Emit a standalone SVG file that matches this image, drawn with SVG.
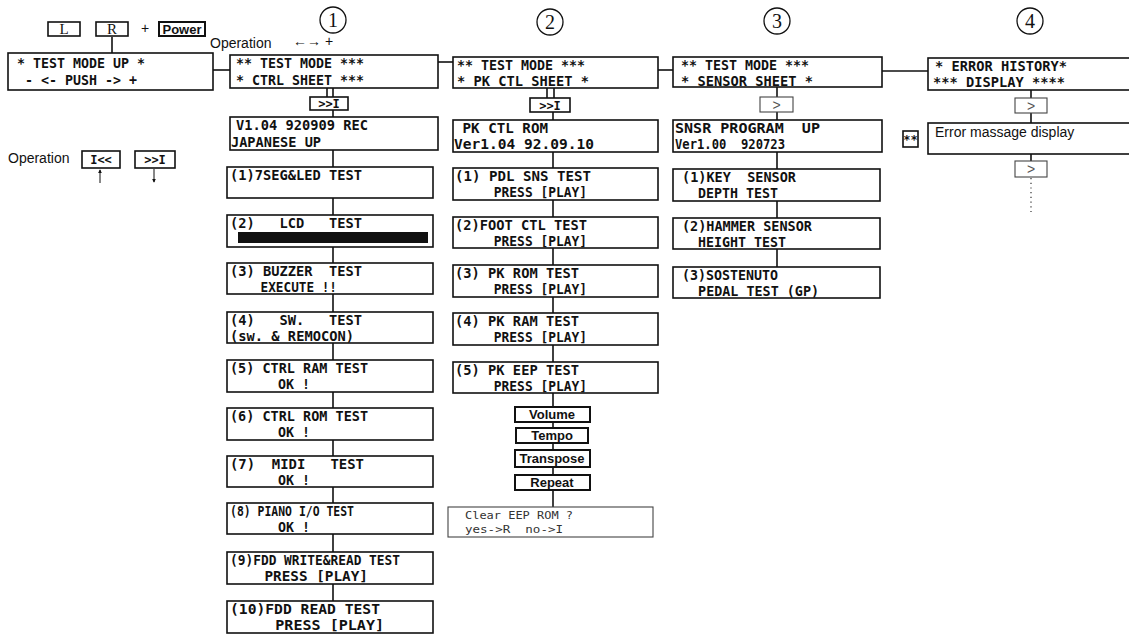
<svg xmlns="http://www.w3.org/2000/svg" width="1129" height="635" viewBox="0 0 1129 635" xml:space="preserve">
<style>
.box{fill:#fff;stroke:#111;stroke-width:1.6}
.lbox{fill:#fff;stroke:#444;stroke-width:1.1}
.kbox{fill:#fff;stroke:#111;stroke-width:2}
.ln{stroke:#111;stroke-width:1.6;fill:none}
.lcd{font-family:"DejaVu Sans Mono","Liberation Mono",monospace;font-size:13.5px;font-weight:bold;fill:#111;white-space:pre}
.lcdl{font-family:"DejaVu Sans Mono","Liberation Mono",monospace;font-size:11px;fill:#333;white-space:pre}
.btn{font-family:"DejaVu Sans Mono","Liberation Mono",monospace;font-size:12px;font-weight:bold;fill:#111;text-anchor:middle;white-space:pre}
.key{font-family:"Liberation Sans",Arial,sans-serif;font-size:13px;font-weight:bold;fill:#111;text-anchor:middle}
.lab{font-family:"Liberation Sans",Arial,sans-serif;font-size:14px;fill:#111}
.ser{font-family:"Liberation Serif","Times New Roman",serif;fill:#111;text-anchor:middle}
.gt{font-family:"Liberation Sans",Arial,sans-serif;font-size:14px;fill:#555;text-anchor:middle}
</style>
<defs>
<marker id="ah" viewBox="0 0 6 6" refX="5" refY="3" markerWidth="4" markerHeight="4" orient="auto"><path d="M0,0 L6,3 L0,6 z" fill="#111"/></marker>
</defs>

<g id="connectors">
<line class="ln" x1="112" y1="37" x2="112" y2="53"/>
<line class="ln" x1="213" y1="70" x2="230" y2="70"/>
<line class="ln" x1="438" y1="62" x2="453" y2="62"/>
<line class="ln" x1="658" y1="70" x2="673" y2="70"/>
<line class="ln" x1="882" y1="71" x2="928" y2="71"/>
<line class="ln" x1="327" y1="88" x2="327" y2="97"/>
<line class="ln" x1="333" y1="88" x2="333" y2="97"/>
<line class="ln" x1="333" y1="110" x2="333" y2="117"/>
<line class="ln" x1="333" y1="150" x2="333" y2="167"/>
<line class="ln" x1="333" y1="198" x2="333" y2="215"/>
<line class="ln" x1="333" y1="247" x2="333" y2="263"/>
<line class="ln" x1="333" y1="294" x2="333" y2="312"/>
<line class="ln" x1="333" y1="343" x2="333" y2="360"/>
<line class="ln" x1="333" y1="392" x2="333" y2="408"/>
<line class="ln" x1="333" y1="440" x2="333" y2="456"/>
<line class="ln" x1="333" y1="487" x2="333" y2="503"/>
<line class="ln" x1="333" y1="534" x2="333" y2="552"/>
<line class="ln" x1="333" y1="584" x2="333" y2="601"/>
<line class="ln" x1="547" y1="88" x2="547" y2="98"/>
<line class="ln" x1="554" y1="88" x2="554" y2="98"/>
<line class="ln" x1="553" y1="112" x2="553" y2="120"/>
<line class="ln" x1="553" y1="152" x2="553" y2="168"/>
<line class="ln" x1="553" y1="200" x2="553" y2="217"/>
<line class="ln" x1="553" y1="248" x2="553" y2="265"/>
<line class="ln" x1="553" y1="297" x2="553" y2="313"/>
<line class="ln" x1="553" y1="345" x2="553" y2="362"/>
<line class="ln" x1="553" y1="393" x2="553" y2="407"/>
<line class="ln" x1="553" y1="422" x2="553" y2="428"/>
<line class="ln" x1="553" y1="443" x2="553" y2="450"/>
<line class="ln" x1="553" y1="467" x2="553" y2="475"/>
<line class="ln" x1="553" y1="490" x2="553" y2="507"/>
<line class="ln" x1="777" y1="87" x2="777" y2="97"/>
<line class="ln" x1="777" y1="112" x2="777" y2="120"/>
<line class="ln" x1="777" y1="152" x2="777" y2="169"/>
<line class="ln" x1="777" y1="201" x2="777" y2="218"/>
<line class="ln" x1="777" y1="249" x2="777" y2="267"/>
<line class="ln" x1="1031" y1="90" x2="1031" y2="98"/>
<line class="ln" x1="1031" y1="113" x2="1031" y2="123"/>
<line class="ln" x1="1031" y1="154" x2="1031" y2="161"/>
<line x1="1031" y1="178" x2="1031" y2="212" stroke="#333" stroke-width="1.2" stroke-dasharray="1.2 3.5"/>
<line x1="100" y1="183" x2="100" y2="170" stroke="#111" stroke-width="1" marker-end="url(#ah)"/>
<line x1="154" y1="169" x2="154" y2="182" stroke="#111" stroke-width="1" marker-end="url(#ah)"/>
</g>

<g id="key-L"><rect class="box" x="48" y="22" width="32" height="14"/><text class="ser" x="64" y="34" font-size="15">L</text></g>
<g id="key-R"><rect class="box" x="96" y="22" width="32" height="14"/><text class="ser" x="112" y="34" font-size="15">R</text></g>
<text class="lab" x="141" y="33" font-size="12">+</text>
<g id="key-power"><rect class="kbox" x="159" y="22" width="46" height="14"/><text class="key" x="182" y="33.5" font-size="12">Power</text></g>

<g id="test-mode-up"><rect class="box" x="8" y="53" width="205" height="37"/>
<text class="lcd" x="17" y="68" font-size="14" textLength="128" lengthAdjust="spacingAndGlyphs">* TEST MODE UP *</text>
<text class="lcd" x="17" y="85" font-size="14" textLength="120" lengthAdjust="spacingAndGlyphs"> - &lt;- PUSH -&gt; +</text></g>

<g id="operation-left">
<text class="lab" x="8" y="163">Operation</text>
<rect class="box" x="82" y="151" width="38" height="17"/><text class="btn" x="101" y="164" font-size="13">I&lt;&lt;</text>
<rect class="box" x="135" y="151" width="40" height="17"/><text class="btn" x="155" y="164" font-size="13">&gt;&gt;I</text>
</g>

<text class="lab" x="210" y="48">Operation</text>
<text class="lab" x="293" y="46" font-size="9">←→ +</text>

<g id="marker-1"><circle cx="333" cy="20" r="13" fill="none" stroke="#111" stroke-width="1.3"/><text class="ser" x="333" y="27" font-size="20">1</text></g>
<g id="marker-2"><circle cx="550" cy="22" r="13" fill="none" stroke="#111" stroke-width="1.3"/><text class="ser" x="550" y="29" font-size="20">2</text></g>
<g id="marker-3"><circle cx="777" cy="21" r="13" fill="none" stroke="#111" stroke-width="1.3"/><text class="ser" x="777" y="28" font-size="20">3</text></g>
<g id="marker-4"><circle cx="1030" cy="21" r="13" fill="none" stroke="#111" stroke-width="1.3"/><text class="ser" x="1030" y="28" font-size="20">4</text></g>

<g id="c1-header"><rect class="box" x="230" y="55" width="208" height="33"/>
<text class="lcd" x="236" y="68" textLength="128" lengthAdjust="spacingAndGlyphs">** TEST MODE ***</text>
<text class="lcd" x="236" y="84.5" textLength="128" lengthAdjust="spacingAndGlyphs">* CTRL SHEET ***</text></g>
<g id="c1-btn"><rect class="box" x="310" y="97" width="38" height="13"/><text class="btn" x="329" y="108">&gt;&gt;I</text></g>
<g id="c1-ver"><rect class="box" x="230" y="117" width="208" height="33"/>
<text class="lcd" x="236" y="130" textLength="132" lengthAdjust="spacingAndGlyphs">V1.04 920909 REC</text>
<text class="lcd" x="231" y="146.5" textLength="90" lengthAdjust="spacingAndGlyphs">JAPANESE UP</text></g>
<g id="c1-t1"><rect class="box" x="227" y="167" width="206" height="31"/>
<text class="lcd" x="230" y="180" textLength="132" lengthAdjust="spacingAndGlyphs">(1)7SEG&amp;LED TEST</text></g>
<g id="c1-t2"><rect class="box" x="227" y="215" width="206" height="32"/>
<text class="lcd" x="230" y="228" textLength="132" lengthAdjust="spacingAndGlyphs">(2)   LCD   TEST</text>
<rect x="238" y="232" width="190" height="11" fill="#111"/></g>
<g id="c1-t3"><rect class="box" x="227" y="263" width="206" height="31"/>
<text class="lcd" x="230" y="276" textLength="132" lengthAdjust="spacingAndGlyphs">(3) BUZZER  TEST</text>
<text class="lcd" x="230" y="292" textLength="107" lengthAdjust="spacingAndGlyphs">    EXECUTE !!</text></g>
<g id="c1-t4"><rect class="box" x="227" y="312" width="206" height="31"/>
<text class="lcd" x="230" y="325" textLength="132" lengthAdjust="spacingAndGlyphs">(4)   SW.   TEST</text>
<text class="lcd" x="230" y="341" textLength="124" lengthAdjust="spacingAndGlyphs">(sw. &amp; REMOCON)</text></g>
<g id="c1-t5"><rect class="box" x="227" y="360" width="206" height="32"/>
<text class="lcd" x="230" y="373" textLength="138" lengthAdjust="spacingAndGlyphs">(5) CTRL RAM TEST</text>
<text class="lcd" x="230" y="389" textLength="80" lengthAdjust="spacingAndGlyphs">      OK !</text></g>
<g id="c1-t6"><rect class="box" x="227" y="408" width="206" height="32"/>
<text class="lcd" x="230" y="421" textLength="138" lengthAdjust="spacingAndGlyphs">(6) CTRL ROM TEST</text>
<text class="lcd" x="230" y="437" textLength="80" lengthAdjust="spacingAndGlyphs">      OK !</text></g>
<g id="c1-t7"><rect class="box" x="227" y="456" width="206" height="31"/>
<text class="lcd" x="230" y="469" textLength="134" lengthAdjust="spacingAndGlyphs">(7)  MIDI   TEST</text>
<text class="lcd" x="230" y="485" textLength="80" lengthAdjust="spacingAndGlyphs">      OK !</text></g>
<g id="c1-t8"><rect class="box" x="227" y="503" width="206" height="31"/>
<text class="lcd" x="230" y="516" textLength="124" lengthAdjust="spacingAndGlyphs">(8) PIANO I/O TEST</text>
<text class="lcd" x="230" y="532" textLength="80" lengthAdjust="spacingAndGlyphs">      OK !</text></g>
<g id="c1-t9"><rect class="box" x="227" y="552" width="206" height="32"/>
<text class="lcd" x="230" y="565" textLength="170" lengthAdjust="spacingAndGlyphs">(9)FDD WRITE&amp;READ TEST</text>
<text class="lcd" x="230" y="581" textLength="138" lengthAdjust="spacingAndGlyphs">    PRESS [PLAY]</text></g>
<g id="c1-t10"><rect class="box" x="227" y="601" width="206" height="32"/>
<text class="lcd" x="230" y="614" textLength="150" lengthAdjust="spacingAndGlyphs">(10)FDD READ TEST</text>
<text class="lcd" x="230" y="630" textLength="154" lengthAdjust="spacingAndGlyphs">     PRESS [PLAY]</text></g>

<g id="c2-header"><rect class="box" x="453" y="57" width="205" height="31"/>
<text class="lcd" x="457" y="69.5" textLength="128" lengthAdjust="spacingAndGlyphs">** TEST MODE ***</text>
<text class="lcd" x="457" y="86" textLength="132" lengthAdjust="spacingAndGlyphs">* PK CTL SHEET *</text></g>
<g id="c2-btn"><rect class="box" x="530" y="98" width="40" height="14"/><text class="btn" x="550" y="109.5">&gt;&gt;I</text></g>
<g id="c2-rom"><rect class="box" x="453" y="120" width="205" height="32"/>
<text class="lcd" x="454" y="133" textLength="94" lengthAdjust="spacingAndGlyphs"> PK CTL ROM</text>
<text class="lcd" x="454" y="149" textLength="140" lengthAdjust="spacingAndGlyphs">Ver1.04 92.09.10</text></g>
<g id="c2-t1"><rect class="box" x="453" y="168" width="205" height="32"/>
<text class="lcd" x="455" y="181" textLength="136" lengthAdjust="spacingAndGlyphs">(1) PDL SNS TEST</text>
<text class="lcd" x="455" y="197" textLength="132" lengthAdjust="spacingAndGlyphs">     PRESS [PLAY]</text></g>
<g id="c2-t2"><rect class="box" x="453" y="217" width="205" height="31"/>
<text class="lcd" x="455" y="230" textLength="132" lengthAdjust="spacingAndGlyphs">(2)FOOT CTL TEST</text>
<text class="lcd" x="455" y="246" textLength="132" lengthAdjust="spacingAndGlyphs">     PRESS [PLAY]</text></g>
<g id="c2-t3"><rect class="box" x="453" y="265" width="205" height="32"/>
<text class="lcd" x="455" y="278" textLength="124" lengthAdjust="spacingAndGlyphs">(3) PK ROM TEST</text>
<text class="lcd" x="455" y="294" textLength="132" lengthAdjust="spacingAndGlyphs">     PRESS [PLAY]</text></g>
<g id="c2-t4"><rect class="box" x="453" y="313" width="205" height="32"/>
<text class="lcd" x="455" y="326" textLength="124" lengthAdjust="spacingAndGlyphs">(4) PK RAM TEST</text>
<text class="lcd" x="455" y="342" textLength="132" lengthAdjust="spacingAndGlyphs">     PRESS [PLAY]</text></g>
<g id="c2-t5"><rect class="box" x="453" y="362" width="205" height="31"/>
<text class="lcd" x="455" y="375" textLength="124" lengthAdjust="spacingAndGlyphs">(5) PK EEP TEST</text>
<text class="lcd" x="455" y="391" textLength="132" lengthAdjust="spacingAndGlyphs">     PRESS [PLAY]</text></g>
<g id="c2-volume"><rect class="kbox" x="515" y="407" width="75" height="15"/><text class="key" x="552" y="419">Volume</text></g>
<g id="c2-tempo"><rect class="kbox" x="516" y="428" width="72" height="15"/><text class="key" x="552" y="440">Tempo</text></g>
<g id="c2-transpose"><rect class="kbox" x="515" y="450" width="75" height="17"/><text class="key" x="552" y="463">Transpose</text></g>
<g id="c2-repeat"><rect class="kbox" x="515" y="475" width="75" height="15"/><text class="key" x="552" y="487">Repeat</text></g>
<g id="c2-clear"><rect class="lbox" x="448" y="507" width="205" height="30"/>
<text class="lcdl" x="465" y="519" textLength="108" lengthAdjust="spacingAndGlyphs">Clear EEP ROM ?</text>
<text class="lcdl" x="465" y="532.5" textLength="98" lengthAdjust="spacingAndGlyphs">yes-&gt;R  no-&gt;I</text></g>

<g id="c3-header"><rect class="box" x="673" y="57" width="209" height="30"/>
<text class="lcd" x="681" y="69.5" textLength="128" lengthAdjust="spacingAndGlyphs">** TEST MODE ***</text>
<text class="lcd" x="681" y="85.5" textLength="132" lengthAdjust="spacingAndGlyphs">* SENSOR SHEET *</text></g>
<g id="c3-btn"><rect class="lbox" x="760" y="97" width="33" height="15"/><text class="gt" x="776.5" y="109.5">&gt;</text></g>
<g id="c3-prog"><rect class="box" x="673" y="120" width="209" height="32"/>
<text class="lcd" x="675" y="133" textLength="145" lengthAdjust="spacingAndGlyphs">SNSR PROGRAM  UP</text>
<text class="lcd" x="675" y="149" textLength="110" lengthAdjust="spacingAndGlyphs">Ver1.00  920723</text></g>
<g id="c3-t1"><rect class="box" x="673" y="169" width="207" height="32"/>
<text class="lcd" x="682" y="182" textLength="114" lengthAdjust="spacingAndGlyphs">(1)KEY  SENSOR</text>
<text class="lcd" x="682" y="198" textLength="96" lengthAdjust="spacingAndGlyphs">  DEPTH TEST</text></g>
<g id="c3-t2"><rect class="box" x="673" y="218" width="207" height="31"/>
<text class="lcd" x="682" y="231" textLength="130" lengthAdjust="spacingAndGlyphs">(2)HAMMER SENSOR</text>
<text class="lcd" x="682" y="247" textLength="104" lengthAdjust="spacingAndGlyphs">  HEIGHT TEST</text></g>
<g id="c3-t3"><rect class="box" x="673" y="267" width="207" height="31"/>
<text class="lcd" x="682" y="280" textLength="96" lengthAdjust="spacingAndGlyphs">(3)SOSTENUTO</text>
<text class="lcd" x="682" y="296" textLength="137" lengthAdjust="spacingAndGlyphs">  PEDAL TEST (GP)</text></g>

<g id="c4-header"><rect class="box" x="928" y="58" width="215" height="32"/>
<text class="lcd" x="935" y="70.5" textLength="132" lengthAdjust="spacingAndGlyphs">* ERROR HISTORY*</text>
<text class="lcd" x="933" y="87" textLength="132" lengthAdjust="spacingAndGlyphs">*** DISPLAY ****</text></g>
<g id="c4-btn1"><rect class="lbox" x="1015" y="98" width="32" height="15"/><text class="gt" x="1031" y="110.5">&gt;</text></g>
<g id="c4-error"><rect class="box" x="928" y="123" width="215" height="31"/>
<text class="lab" x="935" y="137">Error massage display</text></g>
<g id="c4-star"><rect class="box" x="903" y="131" width="15" height="16" stroke-width="1.2"/><text class="btn" x="910.5" y="144" font-size="10">**</text></g>
<g id="c4-btn2"><rect class="lbox" x="1015" y="161" width="32" height="16"/><text class="gt" x="1031" y="174">&gt;</text></g>
</svg>
